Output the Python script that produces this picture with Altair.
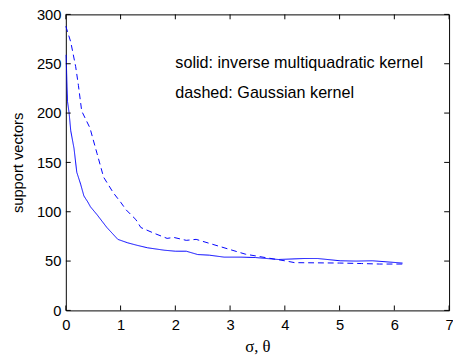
import altair as alt
import pandas as pd

# --- data ---
sigma_dashed = [0.0, 0.09, 0.18, 0.23, 0.29, 0.44, 0.57, 0.69, 0.87, 1.01, 1.1, 1.28, 1.37,
                1.62, 1.85, 1.97, 2.2, 2.38, 2.56, 2.98, 3.28, 3.64, 4.03, 4.18, 4.6,
                5.0, 5.4, 5.73, 6.15]
sv_dashed = [288, 272, 247, 228, 202, 185, 159, 135, 119, 109, 102, 92, 84,
             78, 73, 74, 71, 72, 69, 62, 57, 53.6, 50, 48.4, 48.2,
             48, 47.5, 47, 47]

sigma_solid = [0.005, 0.03, 0.06, 0.09, 0.15, 0.2, 0.27, 0.33, 0.4, 0.45, 0.57, 0.75, 0.95,
               1.13, 1.3, 1.49, 1.8, 2.0, 2.2, 2.41, 2.62, 2.89, 3.2, 3.46, 3.88,
               4.35, 4.6, 5.01, 5.3, 5.6, 6.15]
sv_solid = [259, 212, 200, 182, 164, 140, 128, 116, 110, 105, 97, 84, 72,
            68.5, 66, 63.5, 61, 60, 60, 56.6, 56, 54, 54, 53.6, 51.6,
            52.6, 52.6, 50.3, 50, 50.3, 48]

x_ticks = [0, 1, 2, 3, 4, 5, 6, 7]
y_ticks = [0, 50, 100, 150, 200, 250, 300]

notes = ["solid: inverse multiquadratic kernel", "dashed: Gaussian kernel"]
note_x = [2.0, 2.0]
note_y = [251, 220]

# --- build tables ---
lines = pd.concat([
    pd.DataFrame({"sigma": sigma_solid, "sv": sv_solid, "series": "solid"}),
    pd.DataFrame({"sigma": sigma_dashed, "sv": sv_dashed, "series": "dashed"}),
])
xt = pd.DataFrame({"sigma": x_ticks})
yt = pd.DataFrame({"sv": y_ticks})
nt = pd.DataFrame({"sigma": note_x, "sv": note_y, "text": notes})

W, H = 391, 302
TK = 5
xs = alt.Scale(domain=[0, 7], nice=False, zero=False)
ys = alt.Scale(domain=[0, 300], nice=False, zero=False)

x_axis = alt.Axis(values=x_ticks, title="σ, θ", ticks=False, domain=False, grid=False,
                  labelPadding=7, titlePadding=7, titleFont="Liberation Serif",
                  titleFontSize=17, titleFontWeight="normal", labelFlush=False)
y_axis = alt.Axis(values=y_ticks, title="support vectors", ticks=False, domain=False, grid=False,
                  labelPadding=5, titlePadding=11, titleFont="Liberation Sans",
                  titleFontSize=15, titleFontWeight="normal", labelFlush=False)

X = alt.X("sigma:Q", scale=xs, axis=x_axis)
Y = alt.Y("sv:Q", scale=ys, axis=y_axis)

line = alt.Chart(lines).mark_line(color="#0000ff", strokeWidth=1).encode(
    x=X, y=Y,
    strokeDash=alt.StrokeDash("series:N",
                              scale=alt.Scale(domain=["solid", "dashed"], range=[[1, 0], [6, 4]]),
                              legend=None),
    detail="series:N",
)

xb = alt.Chart(xt).mark_rule(color="black", strokeWidth=1).encode(x=X, y=alt.value(H), y2=alt.value(H - TK))
xtop = alt.Chart(xt).mark_rule(color="black", strokeWidth=1).encode(x=X, y=alt.value(0), y2=alt.value(TK))
yl = alt.Chart(yt).mark_rule(color="black", strokeWidth=1).encode(y=Y, x=alt.value(0), x2=alt.value(TK))
yr = alt.Chart(yt).mark_rule(color="black", strokeWidth=1).encode(y=Y, x=alt.value(W - TK), x2=alt.value(W))

txt = alt.Chart(nt).mark_text(align="left", baseline="middle", font="Liberation Sans",
                              fontSize=16.5, color="black").encode(x=X, y=Y, text="text:N")

chart = alt.layer(line, xb, xtop, yl, yr, txt).properties(
    width=W, height=H,
    autosize=alt.AutoSizeParams(type="none"),
    padding={"left": 59, "top": 3, "right": 4, "bottom": 44},
).configure_view(stroke="black", strokeWidth=1).configure_axis(
    labelFont="Liberation Sans", labelFontSize=15, labelColor="black", titleColor="black"
)

chart.save("out.html", embed_options={"renderer": "svg", "actions": False})
